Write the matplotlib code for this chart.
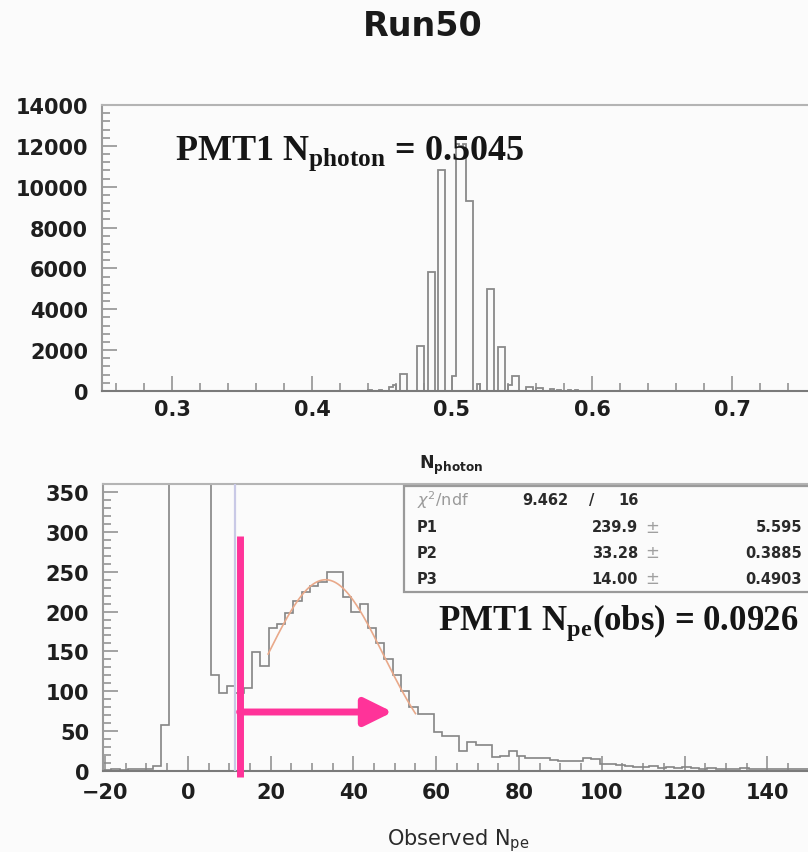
import numpy as np
import matplotlib
matplotlib.use("Agg")
import matplotlib.pyplot as plt
from matplotlib.patches import Rectangle
from matplotlib.ticker import MultipleLocator, FixedLocator

# photon estimate histogram: left edge of each filled bin and its count
photon_lo = [0.4400, 0.4475, 0.4550, 0.4575, 0.4625, 0.4650, 0.4750, 0.4775,
             0.4825, 0.4850, 0.4900, 0.4925, 0.5000, 0.5025, 0.5050, 0.5075,
             0.5100, 0.5125, 0.5175, 0.5250, 0.5275, 0.5325, 0.5350, 0.5400,
             0.5425, 0.5450, 0.5525, 0.5550, 0.5600, 0.5625, 0.5700, 0.5750,
             0.5825, 0.5875]
photon_counts = [40, 60, 210, 300, 830, 830, 2220, 2220,
                 5810, 5810, 10830, 10830, 730, 12100, 12000, 12100,
                 9320, 9320, 340, 4990, 4990, 2140, 2140, 300,
                 720, 720, 210, 210, 140, 140, 90, 60,
                 50, 30]
photon_binw = 0.0025
photon_range = (0.25, 0.80)
photon_ticks = [0.3, 0.4, 0.5, 0.6, 0.7]

# observed photoelectrons, 2-wide bins starting at -20.5
npe_counts = [1, 2, 1, 2, 3, 3, 6, 58, 1200, 9000,
              15000, 6000, 900, 120, 98, 106, 98, 104, 149, 132,
              179, 184, 198, 213, 224, 232, 237, 250, 250, 218,
              199, 210, 180, 160, 140, 120, 100, 80, 72, 72,
              49, 44, 44, 25, 37, 32, 32, 18, 19, 25,
              19, 16, 16, 16, 14, 13, 12, 12, 16, 15,
              9, 9, 7, 6, 5, 5, 6, 4, 5, 4,
              5, 4, 3, 4, 3, 3, 2, 4, 3, 2,
              3, 2, 2, 3, 2, 2, 1, 2, 1, 1]
npe_start = -20.5
npe_binw = 2.0
npe_ticks = [-20, 0, 20, 40, 60, 80, 100, 120, 140]

# gaussian fit result
fit_p = [239.9, 33.28, 14.00]
fit_err = ["5.595", "0.3885", "0.4903"]
fit_vals = ["239.9", "33.28", "14.00"]
fit_chi2 = "9.462"
fit_ndf = "16"
fit_range = (19.4, 55.0)

cut_npe = 12.5
arrow_level = 74
arrow_end = 49.5

W, H = 808, 853
pink = "#ff3399"
bg = "#fbfbfb"
tickfont = dict(family="DejaVu Sans", weight="bold", size=15)


def fx(px):
    return px / W


def fy(py):
    return 1 - py / H


def style_axes(ax):
    ax.set_facecolor(bg)
    ax.spines["top"].set_color("#b4b4b4")
    ax.spines["left"].set_color("#9a9a9a")
    ax.spines["bottom"].set_color("#7a7a7a")
    ax.spines["right"].set_visible(False)
    for s in ax.spines.values():
        s.set_linewidth(1.5)
    ax.tick_params(which="both", direction="in", color="#8a8a8a",
                   top=False, right=False, width=1.1, labelcolor="#1e1e1e")
    ax.tick_params(which="major", length=11)
    ax.tick_params(which="minor", length=5.5)
    for lab in ax.get_xticklabels() + ax.get_yticklabels():
        lab.set_fontfamily(tickfont["family"])
        lab.set_fontweight(tickfont["weight"])
        lab.set_fontsize(tickfont["size"])


fig = plt.figure(figsize=(W / 100, H / 100), dpi=100, facecolor=bg)

# upper panel
ax1 = fig.add_axes([fx(102), fy(392), fx(872) - fx(102), fy(106) - fy(392)])
edges1 = np.arange(photon_range[0], photon_range[1] + 1e-9, photon_binw)
centers1 = np.array(photon_lo) + photon_binw / 2
ax1.hist(centers1, bins=edges1, weights=photon_counts, histtype="step",
         color="#8a8a8a", lw=1.3)
ax1.set_xlim(*photon_range)
ax1.set_ylim(0, 14000)
ax1.xaxis.set_major_locator(FixedLocator(photon_ticks))
ax1.xaxis.set_minor_locator(MultipleLocator(0.02))
ax1.yaxis.set_major_locator(MultipleLocator(2000))
ax1.yaxis.set_minor_locator(MultipleLocator(400))
ax1.tick_params(axis="x", pad=6)
ax1.tick_params(axis="y", pad=10)
style_axes(ax1)

ax1.text(fx(175), fy(160), r"PMT1 N$_{\mathregular{photon}}$ = 0.5045",
         transform=fig.transFigure, family="Liberation Serif", weight="bold",
         size=26, color="#151515", va="baseline", zorder=5)

fig.text(fx(419), fy(469), r"N$_{\mathregular{photon}}$", family="DejaVu Sans",
         weight="bold", size=12.5, color="#222222", va="baseline")

# lower panel
ax2 = fig.add_axes([fx(103), fy(772), fx(848) - fx(103), fy(485) - fy(772)])
edges2 = npe_start + npe_binw * np.arange(len(npe_counts) + 1)
centers2 = edges2[:-1] + npe_binw / 2
ax2.hist(centers2, bins=edges2, weights=npe_counts, histtype="step",
         color="#858585", lw=1.2)
xf = np.linspace(fit_range[0], fit_range[1], 200)
ax2.plot(xf, fit_p[0] * np.exp(-0.5 * ((xf - fit_p[1]) / fit_p[2]) ** 2),
         color="#e9a98a", lw=1.2)
ax2.set_xlim(edges2[0], edges2[-1])
ax2.set_ylim(0, 360)
ax2.xaxis.set_major_locator(FixedLocator(npe_ticks))
ax2.xaxis.set_minor_locator(MultipleLocator(5))
ax2.yaxis.set_major_locator(MultipleLocator(50))
ax2.yaxis.set_minor_locator(MultipleLocator(10))
ax2.tick_params(axis="x", pad=8)
ax2.tick_params(axis="y", pad=10)
style_axes(ax2)

# threshold marker and arrow
ax2.axvline(cut_npe - 1.0, color="#c9c9e6", lw=1.6, zorder=3)
ax2.plot([cut_npe, cut_npe], [-8, 295], color=pink, lw=5,
         solid_capstyle="butt", clip_on=False, zorder=6)
ax2.annotate("", xy=(arrow_end, arrow_level), xytext=(cut_npe, arrow_level),
             arrowprops=dict(arrowstyle="-|>,head_length=0.85,head_width=0.42",
                             mutation_scale=20, lw=5, color=pink,
                             shrinkA=0, shrinkB=0),
             zorder=6)

ax2.text(fx(438), fy(630), r"PMT1 N$_{\mathregular{pe}}$(obs) = 0.0926",
         transform=fig.transFigure, family="Liberation Serif", weight="bold",
         size=25, color="#151515", va="baseline", zorder=5)

fig.text(fx(458), fy(845), r"Observed N$_{\mathregular{pe}}$", family="DejaVu Sans",
         size=15, color="#2a2a2a", ha="center", va="baseline")

# fit statistics box
fig.add_artist(Rectangle((fx(404), fy(593)), 1.0, fy(487) - fy(593),
                         transform=fig.transFigure, facecolor=bg,
                         edgecolor="#9a9a9a", lw=1.6, zorder=4))
statfont = dict(family="DejaVu Sans", weight="bold", size=10.5, color="#2a2a2a",
                va="center", zorder=7)
fig.text(fx(417), fy(500), r"$\chi^2$/ndf", family="DejaVu Sans", size=11.5,
         color="#9a9a9a", va="center", zorder=7)
fig.text(fx(568), fy(501), fit_chi2, ha="right", **statfont)
fig.text(fx(592), fy(501), "/", ha="center", **statfont)
fig.text(fx(618), fy(501), fit_ndf, ha="left", **statfont)
for i, (val, err) in enumerate(zip(fit_vals, fit_err)):
    y = [528, 553, 579][i]
    fig.text(fx(417), fy(y), "P%d" % (i + 1), ha="left", **statfont)
    fig.text(fx(638), fy(y), val, ha="right", **statfont)
    fig.text(fx(652), fy(y), "\u00b1", ha="center", family="DejaVu Sans",
             size=12, color="#a0a0a0", va="center", zorder=7)
    fig.text(fx(802), fy(y), err, ha="right", **statfont)

fig.text(0.523, fy(26), "Run50", family="DejaVu Sans", weight="bold", size=24,
         color="#1a1a1a", ha="center", va="center")

fig.savefig("out.png", dpi=100, facecolor=bg)
